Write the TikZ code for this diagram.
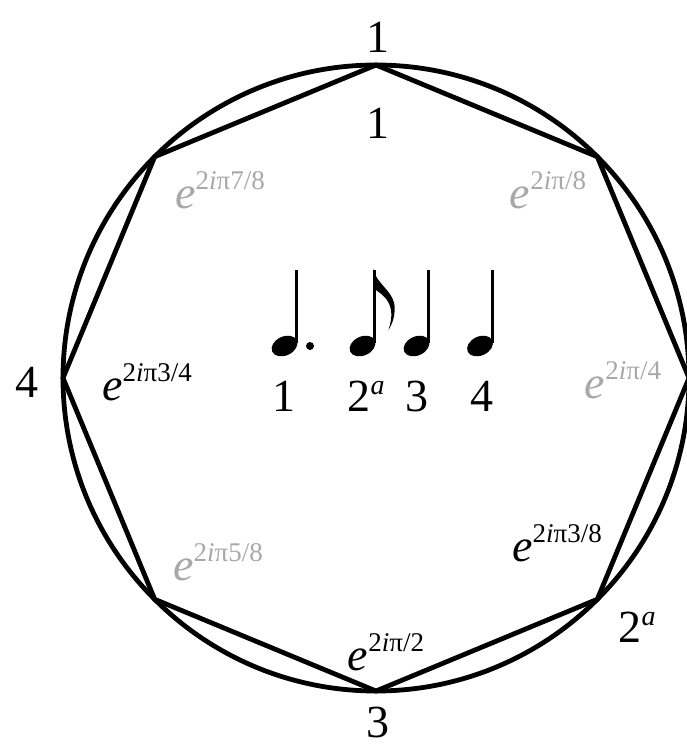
\documentclass[tikz,border=0pt]{standalone}
\usepackage{fontspec}
\setmainfont{Liberation Serif}
\newcommand\eexp[1]{{\fontsize{46}{50}\selectfont\textit{e}}{\fontsize{27}{30}\selectfont\raisebox{19pt}{#1}}}
\newcommand\dig{\fontsize{46}{50}\selectfont}
\newcommand\supa{\raisebox{17pt}{\fontsize{28}{30}\selectfont\textit{a}}}
\definecolor{lightg}{HTML}{A8A8A8}
\begin{document}
\begin{tikzpicture}[x=1pt,y=-1pt,
  edge/.style={line width=4.8pt,line join=miter},
  lbl/.style={inner sep=0pt,font=\dig},
  grayl/.style={inner sep=0pt,text=lightg},
  blackl/.style={inner sep=0pt,text=black},
  stem/.style={line width=3pt}]
\useasboundingbox (0,0) rectangle (687,750);
\coordinate (c) at (376,378);
\coordinate (vt) at (376,65);
\coordinate (vur) at (597.3,156.7);
\coordinate (vr) at (689,378);
\coordinate (vlr) at (597.3,599.3);
\coordinate (vb) at (376,691);
\coordinate (vll) at (154.7,599.3);
\coordinate (vl) at (63,378);
\coordinate (vul) at (154.7,156.7);
\draw[edge] (c) circle[radius=313];
\draw[edge] (vt) -- (vur) -- (vr) -- (vlr) -- (vb) -- (vll) -- (vl) -- (vul) -- cycle;
% outer labels
\node[lbl] (ltop) at (378,37) {1};
\node[lbl] (lbot) at (378,722) {3};
\node[lbl] (lleft) at (27,382) {4};
\node[lbl] (lra) at (637,627) {2\supa};
% inner labels
\node[lbl] (lin) at (378,123) {1};
\node[grayl] (e18) at (548,190) {\eexp{2\textit{i}π/8}};
\node[grayl] (e78) at (220,190) {\eexp{2\textit{i}π7/8}};
\node[blackl] (e34) at (147,382) {\eexp{2\textit{i}π3/4}};
\node[grayl] (e14) at (623,380) {\eexp{2\textit{i}π/4}};
\node[grayl] (e58) at (218,562) {\eexp{2\textit{i}π5/8}};
\node[blackl] (e38) at (557,543) {\eexp{2\textit{i}π3/8}};
\node[blackl] (e12) at (386,652) {\eexp{2\textit{i}π/2}};
% notes
\fill[rotate around={25:(284.5,346)}] (284.5,346) ellipse[x radius=13.5,y radius=9.5];
\draw[stem] (296.5,343) -- (296.5,270);
\fill (310,346) circle[radius=4];
\fill[rotate around={25:(362.5,346)}] (362.5,346) ellipse[x radius=13.5,y radius=9.5];
\draw[stem] (374.5,343) -- (374.5,270);
\fill (373,268.5) .. controls (377,286) and (397,292) .. (394.5,312) .. controls (394,320) and (391,326) .. (388.5,330) .. controls (391,322) and (392,316) .. (391,310) .. controls (389,298) and (380,293) .. (373,288) -- cycle;
\fill[rotate around={25:(416.5,346)}] (416.5,346) ellipse[x radius=13.5,y radius=9.5];
\draw[stem] (428.5,343) -- (428.5,270);
\fill[rotate around={25:(480,346)}] (480,346) ellipse[x radius=13.5,y radius=9.5];
\draw[stem] (492,343) -- (492,270);
\node[lbl] (n1) at (284,396) {1};
\node[lbl] (n2) at (366,396) {2\supa};
\node[lbl] (n3) at (417,396) {3};
\node[lbl] (n4) at (482,396) {4};
\end{tikzpicture}
\end{document}
